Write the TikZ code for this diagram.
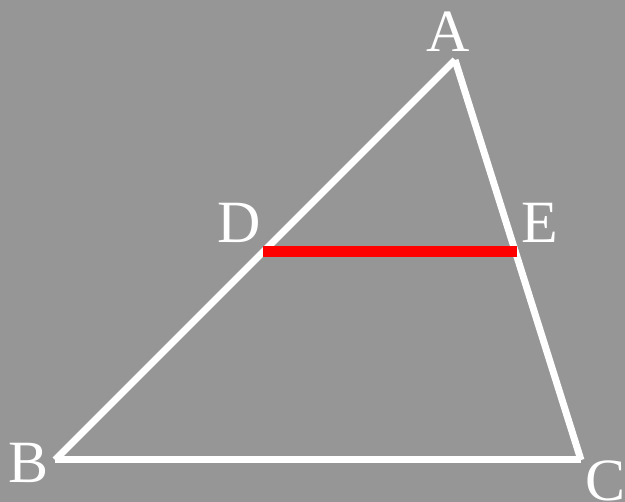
\documentclass[tikz,border=0pt]{standalone}
\usepackage{fontspec}
\setmainfont{Liberation Serif}
\definecolor{bg}{RGB}{150,150,150}
\begin{document}
\begin{tikzpicture}[x=1pt,y=-1pt,
  edge/.style={draw=white,line width=7pt},
  seg/.style={draw=red,line width=11pt},
  lbl/.style={text=white,font=\fontsize{60}{60}\selectfont,inner sep=0pt,anchor=base}]
\fill[bg] (0,0) rectangle (625,502);
\useasboundingbox (0,0) rectangle (625,502);
\coordinate (A) at (455,60);
\coordinate (B) at (55,460);
\coordinate (C) at (581,460);
\coordinate (D) at (263,252);
\coordinate (E) at (517,252);
\draw[edge] (A) -- (B);
\draw[edge] (B) -- (C);
\draw[edge] (C) -- (A);
\draw[seg] (D) -- (E);
\node[lbl] (lA) at (448,52) {A};
\node[lbl] (lB) at (29,483) {B};
\node[lbl] (lC) at (606,501) {C};
\node[lbl] (lD) at (239,243) {D};
\node[lbl] (lE) at (540,243) {E};
\end{tikzpicture}
\end{document}
